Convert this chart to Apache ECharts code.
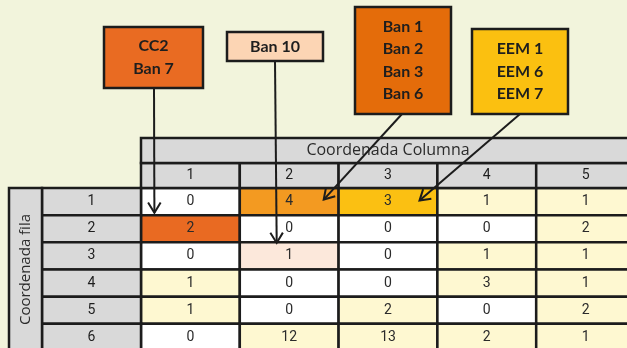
<!DOCTYPE html>
<html>
<head>
<meta charset="utf-8">
<script src="https://cdn.jsdelivr.net/npm/echarts@6/dist/echarts.min.js"></script>
<style>
html,body{margin:0;padding:0;background:#F2F4DC;}
#chart{width:627px;height:348px;}
</style>
</head>
<body>
<div id="chart"></div>
<script>
// ---- data ----
const columns = ['1', '2', '3', '4', '5'];
const rows = ['1', '2', '3', '4', '5', '6'];
const values = [
  [0, 4, 3, 1, 1],
  [2, 0, 0, 0, 2],
  [0, 1, 0, 1, 1],
  [1, 0, 0, 3, 1],
  [1, 0, 2, 0, 2],
  [0, 12, 13, 2, 1]
];
const columnTitle = 'Coordenada Columna';
const rowTitle = 'Coordenada fila';
const annotationTexts = ['CC2\nBan 7', 'Ban 10', 'Ban 1\nBan 2\nBan 3\nBan 6', 'EEM 1\nEEM 6\nEEM 7'];
// highlighted cell for each annotation: [row, column]
const annotationCells = [['2', '1'], ['3', '2'], ['1', '2'], ['1', '3']];

// ---- styles / layout ----
const BORDER = '#1c1c1c';
const GRAY = '#D9D9D9';
const WHITE = '#FFFFFF';
const LIGHT = '#FEF8D1';
const annotationColors = ['#E96A22', '#FCE8DB', '#F39A21', '#FBC012'];
const boxColors = ['#E96B22', '#FCD5B4', '#E46C0A', '#FBC010'];
const boxes = [
  {x: 104, y: 27, w: 99, h: 61, from: [154, 88], tip: [-36, -16]},
  {x: 227, y: 32, w: 96, h: 29, from: [275, 61], tip: [-12.5, -13]},
  {x: 355, y: 7, w: 96, h: 107, from: [402, 114], tip: [34.5, -2]},
  {x: 472, y: 29, w: 96, h: 85, from: [520, 114], tip: [31.5, -1]}
];
const NUM_FONT = '14px Roboto';
const HEAD_FONT = '14px Roboto';
const TITLE_FONT = '16px "Open Sans"';
const VTITLE_FONT = '15px "Open Sans"';

function highlightColor(r, c) {
  for (let i = 0; i < annotationCells.length; i++) {
    if (annotationCells[i][0] === rows[r] && annotationCells[i][1] === columns[c]) return annotationColors[i];
  }
  return null;
}

const dataCells = [];
values.forEach((row, r) => row.forEach((v, c) => dataCells.push([c, r, v])));

function makeRender(fillFn, textFn, font, rotate, color) {
  return function (params, api) {
    const xi = api.value(0), yi = api.value(1);
    const p = api.coord([xi, yi]);
    const s = api.size([1, 1]);
    const children = [{
      type: 'rect',
      shape: {x: p[0] - s[0] / 2, y: p[1] - s[1] / 2, width: s[0], height: s[1]},
      style: {fill: fillFn(xi, yi, api), stroke: BORDER, lineWidth: 2.5}
    }];
    children.push({
      type: 'text',
      x: p[0], y: p[1],
      rotation: rotate ? Math.PI / 2 : 0,
      style: {text: textFn(xi, yi, api), align: 'center', verticalAlign: 'middle', font: font, fill: color || '#2b2b2b'}
    });
    return {type: 'group', children: children};
  };
}

const chart = echarts.init(document.getElementById('chart'));
const hiddenCat = (data, extra) => Object.assign({type: 'category', data: data, show: false}, extra || {});
const G = (o) => Object.assign({outerBoundsMode: 'none', containLabel: false}, o);

const option = {
  backgroundColor: '#F2F4DC',
  animation: false,
  grid: [
    G({left: 141, top: 188, width: 494, height: 163}),   // data
    G({left: 141, top: 163, width: 494, height: 25}),    // column numbers
    G({left: 141, top: 138, width: 494, height: 25}),    // column title
    G({left: 42, top: 188, width: 99, height: 163}),     // row numbers
    G({left: 9, top: 188, width: 33, height: 163})       // row title
  ],
  xAxis: [
    hiddenCat(columns, {gridIndex: 0}),
    hiddenCat(columns, {gridIndex: 1}),
    hiddenCat([columnTitle], {gridIndex: 2}),
    hiddenCat(['r'], {gridIndex: 3}),
    hiddenCat(['t'], {gridIndex: 4})
  ],
  yAxis: [
    hiddenCat(rows, {gridIndex: 0, inverse: true}),
    hiddenCat(['h'], {gridIndex: 1}),
    hiddenCat(['h'], {gridIndex: 2}),
    hiddenCat(rows, {gridIndex: 3, inverse: true}),
    hiddenCat([rowTitle], {gridIndex: 4})
  ],
  series: [
    {
      type: 'custom', xAxisIndex: 0, yAxisIndex: 0, data: dataCells, z: 2,
      renderItem: makeRender(
        (c, r, api) => highlightColor(r, c) || (api.value(2) > 0 ? LIGHT : WHITE),
        (c, r, api) => String(api.value(2)), NUM_FONT)
    },
    {
      type: 'custom', xAxisIndex: 1, yAxisIndex: 1, data: columns.map((c, i) => [i, 0]), z: 2,
      renderItem: makeRender(() => GRAY, (c) => columns[c], HEAD_FONT, false, '#1e1e1e')
    },
    {
      type: 'custom', xAxisIndex: 2, yAxisIndex: 2, data: [[0, 0]], z: 2,
      renderItem: makeRender(() => GRAY, () => columnTitle, TITLE_FONT)
    },
    {
      type: 'custom', xAxisIndex: 3, yAxisIndex: 3, data: rows.map((r, i) => [0, i]), z: 2,
      renderItem: makeRender(() => GRAY, (c, r) => rows[r], HEAD_FONT, false, '#1e1e1e')
    },
    {
      type: 'custom', xAxisIndex: 4, yAxisIndex: 4, data: [[0, 0]], z: 2,
      renderItem: makeRender(() => GRAY, () => rowTitle, VTITLE_FONT, true)
    }
  ]
};
chart.setOption(option);

// ---- annotation boxes and arrows ----
const graphics = [];
boxes.forEach((b, i) => {
  graphics.push({
    type: 'rect', z: 100,
    shape: {x: b.x, y: b.y, width: b.w, height: b.h},
    style: {fill: boxColors[i], stroke: BORDER, lineWidth: 2.5}
  });
  graphics.push({
    type: 'text', z: 101,
    x: b.x + b.w / 2, y: b.y + b.h / 2,
    style: {text: annotationTexts[i], align: 'center', verticalAlign: 'middle',
      font: 'bold 16px Lato', fill: '#1e1e1e', lineHeight: 22.5}
  });
  const cell = annotationCells[i];
  const center = chart.convertToPixel({xAxisIndex: 0, yAxisIndex: 0}, [cell[1], cell[0]]);
  const tip = [center[0] + b.tip[0], center[1] + b.tip[1]];
  const from = b.from;
  const ang = Math.atan2(tip[1] - from[1], tip[0] - from[0]);
  const len = 12, spread = 0.55;
  const a1 = [tip[0] - len * Math.cos(ang - spread), tip[1] - len * Math.sin(ang - spread)];
  const a2 = [tip[0] - len * Math.cos(ang + spread), tip[1] - len * Math.sin(ang + spread)];
  graphics.push({
    type: 'line', z: 99,
    shape: {x1: from[0], y1: from[1], x2: tip[0], y2: tip[1]},
    style: {stroke: BORDER, lineWidth: 2}
  });
  graphics.push({
    type: 'polyline', z: 99,
    shape: {points: [a1, tip, a2]},
    style: {stroke: BORDER, lineWidth: 2, fill: null}
  });
});
chart.setOption({graphic: graphics});
</script>
</body>
</html>
